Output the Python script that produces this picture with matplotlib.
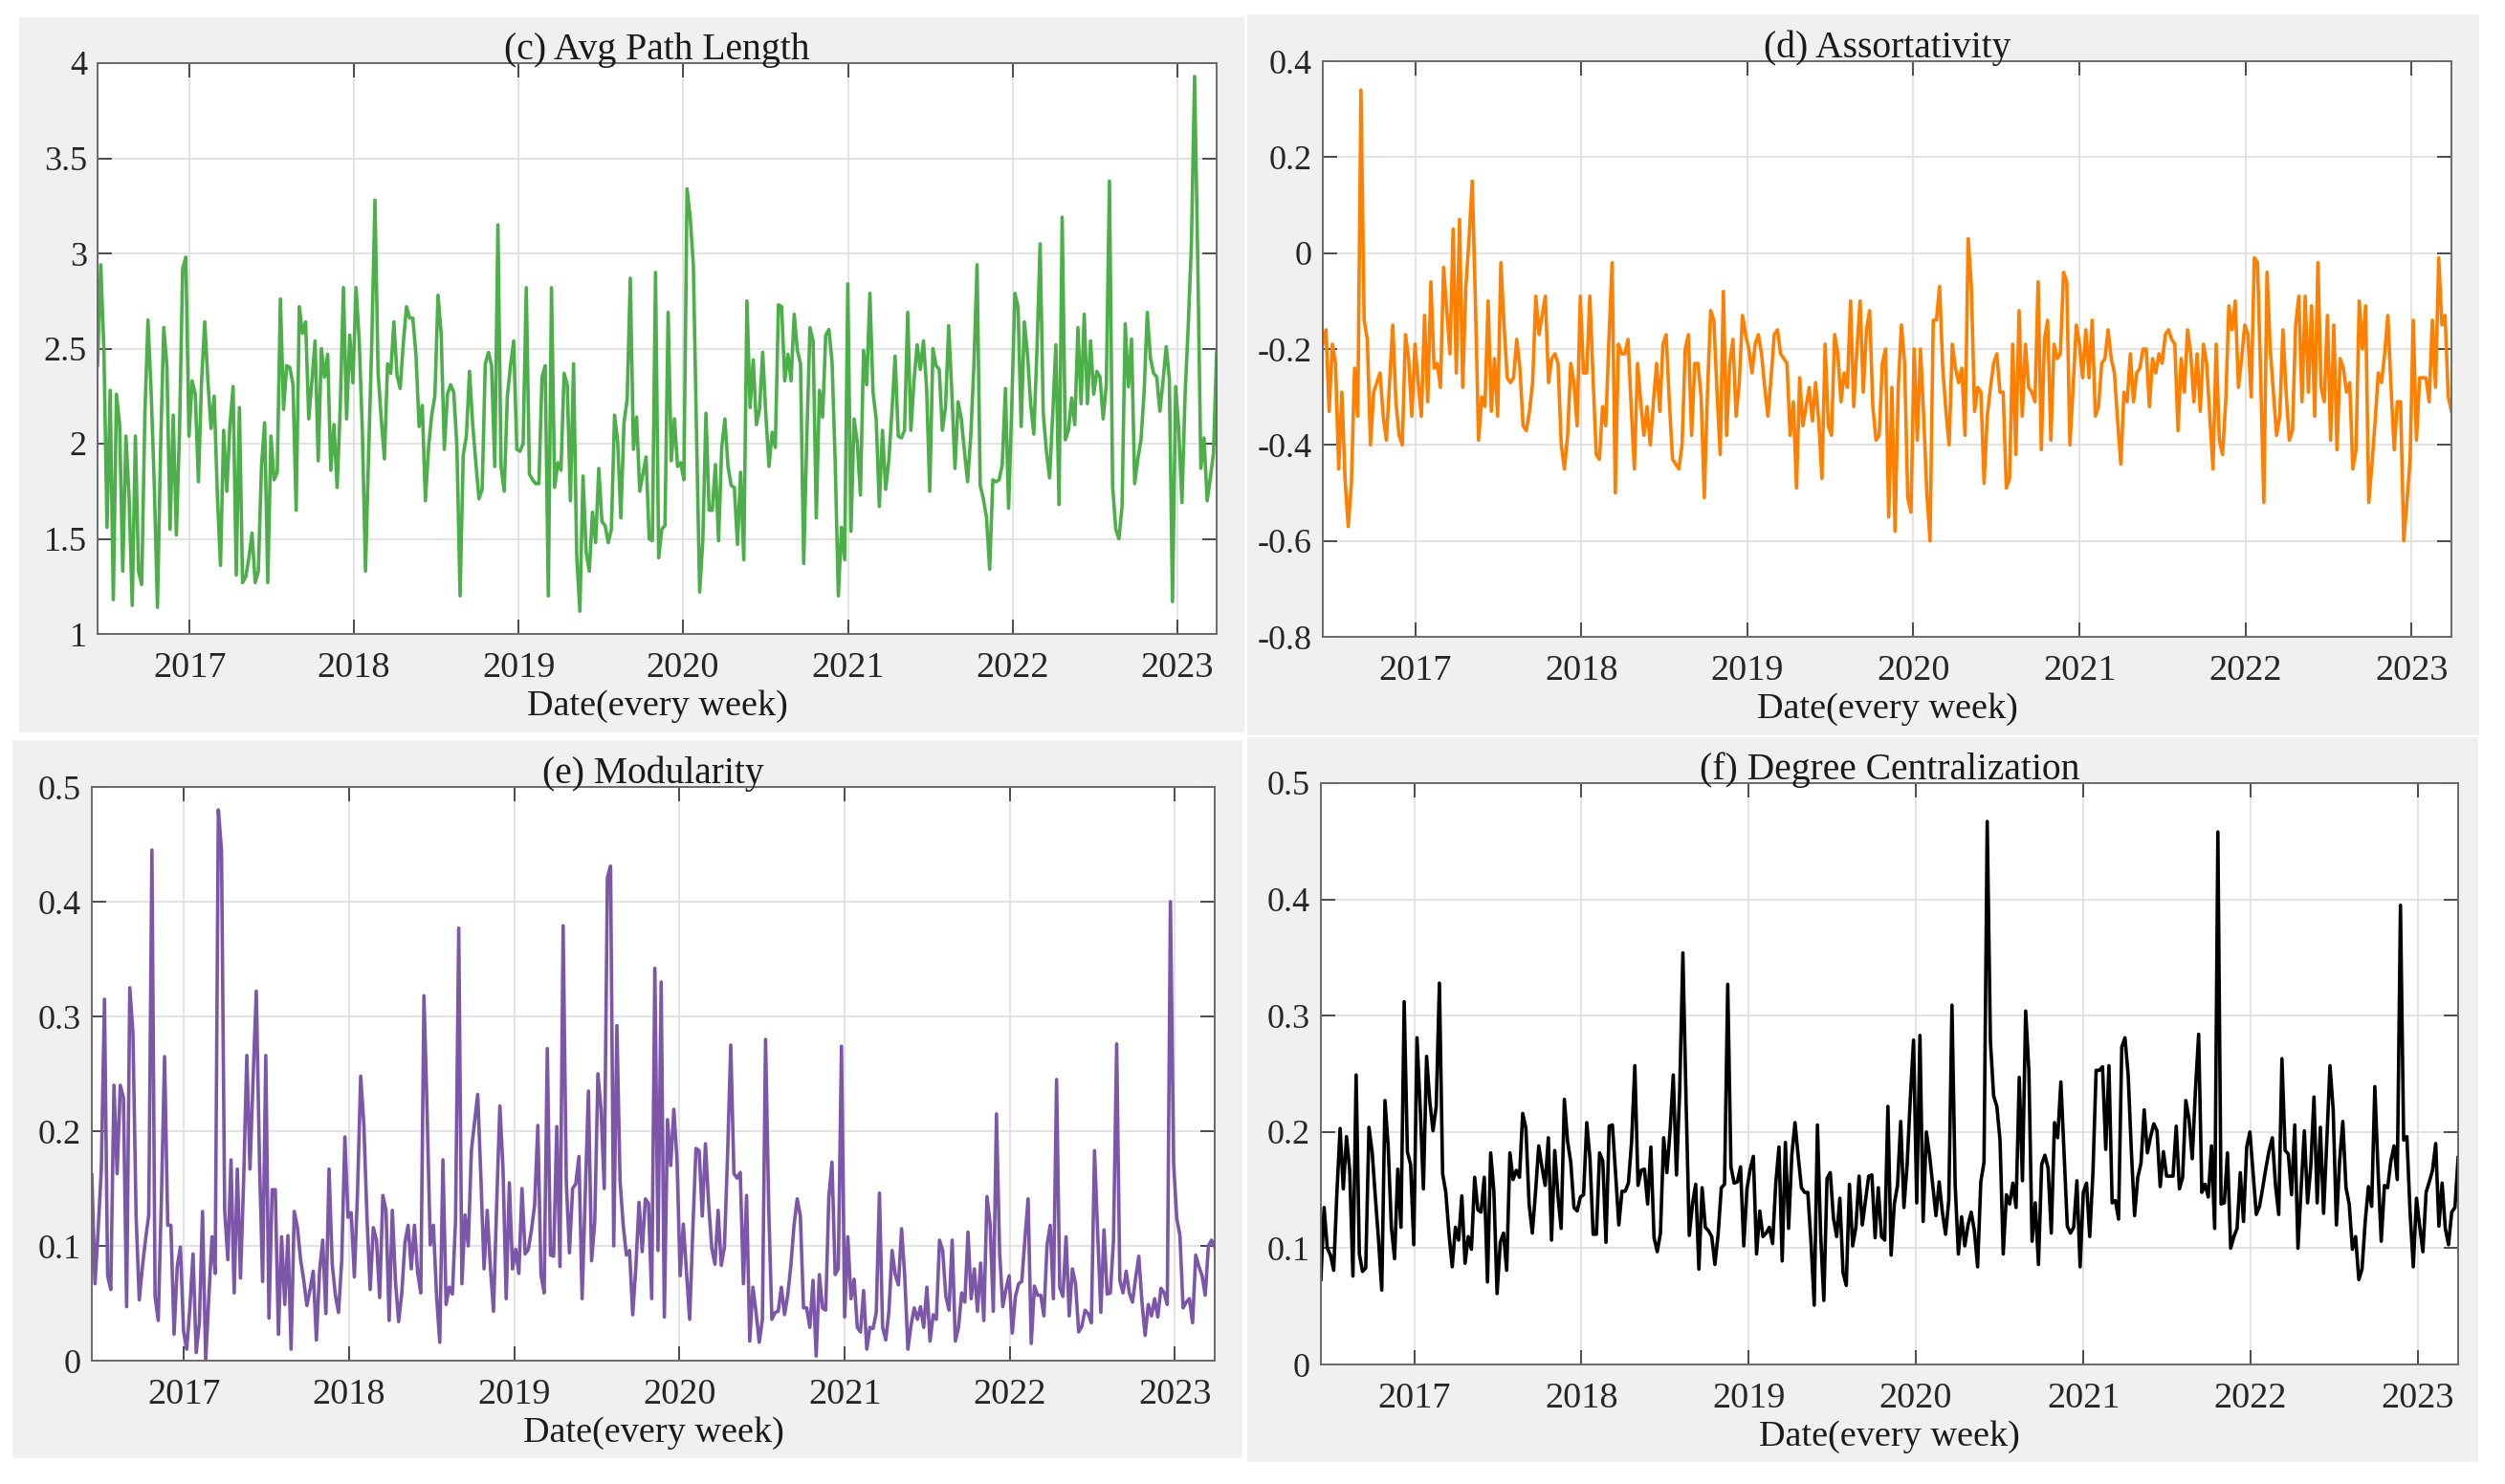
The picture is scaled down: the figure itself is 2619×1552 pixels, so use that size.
import numpy as np
import pandas as pd
import matplotlib
matplotlib.use('Agg')
import matplotlib.pyplot as plt
import matplotlib.dates as mdates
from matplotlib.patches import Rectangle

plt.rcParams['font.family'] = ['Liberation Serif', 'DejaVu Serif']

# weekly span of the series
start = pd.Timestamp('2016-06-11')
end = pd.Timestamp('2023-03-30')

# (c) average path length
path_len = [
    2.41, 2.94, 2.5, 1.56, 2.28, 1.18, 2.26, 2.1, 1.33, 2.04, 1.72, 1.15, 2.04, 1.33, 1.26, 2.15,
    2.65, 2.27, 1.78, 1.14, 1.98, 2.61, 2.41, 1.55, 2.15, 1.52, 2.07, 2.92, 2.98, 2.04, 2.33, 2.26,
    1.8, 2.33, 2.64, 2.33, 2.08, 2.25, 1.73, 1.36, 2.07, 1.75, 2.1, 2.3, 1.31, 2.19, 1.27, 1.3,
    1.4, 1.53, 1.27, 1.33, 1.88, 2.11, 1.27, 2.04, 1.81, 1.85, 2.76, 2.18, 2.41, 2.4, 2.31, 1.65,
    2.72, 2.58, 2.64, 2.13, 2.33, 2.54, 1.91, 2.5, 2.35, 2.47, 1.86, 2.1, 1.77, 2.2, 2.82, 2.13,
    2.57, 2.32, 2.82, 2.54, 2.07, 1.33, 1.96, 2.54, 3.28, 2.37, 2.13, 1.92, 2.42, 2.37, 2.64, 2.36,
    2.29, 2.53, 2.72, 2.66, 2.66, 2.47, 2.09, 2.2, 1.7, 1.98, 2.15, 2.25, 2.78, 2.58, 1.97, 2.26,
    2.31, 2.27, 1.98, 1.2, 1.94, 2.04, 2.38, 2.1, 1.9, 1.71, 1.76, 2.42, 2.48, 2.41, 1.88, 3.15,
    1.88, 1.75, 2.25, 2.41, 2.54, 1.97, 1.96, 2.0, 2.82, 1.84, 1.81, 1.79, 1.79, 2.35, 2.41, 1.2,
    2.82, 1.77, 1.9, 1.86, 2.37, 2.31, 1.7, 2.42, 1.41, 1.12, 1.83, 1.43, 1.33, 1.64, 1.48, 1.87,
    1.59, 1.57, 1.48, 1.55, 2.15, 2.01, 1.61, 2.11, 2.23, 2.87, 1.97, 2.14, 1.75, 1.84, 1.93, 1.5,
    1.49, 2.9, 1.4, 1.55,
    1.57, 2.69, 1.91, 2.13, 1.88, 1.9, 1.81, 3.34, 3.19, 2.94, 2.06, 1.22, 1.49, 2.16, 1.65, 1.65,
    1.89, 1.49, 1.98, 2.13, 1.88, 1.78, 1.77, 1.47, 1.85, 1.39, 2.75, 2.19, 2.44, 2.1, 2.18, 2.48,
    2.15, 1.88, 2.06, 1.98, 2.73, 2.72, 2.33, 2.47, 2.33, 2.68, 2.49, 2.42, 1.37, 2.04, 2.61, 2.54,
    1.61, 2.28, 2.14, 2.57, 2.6, 2.43, 1.9, 1.2, 1.56, 1.39, 2.84, 1.54, 2.13, 2.01, 1.73, 2.49,
    2.31, 2.79, 2.27, 2.13, 1.67, 2.07, 1.76, 1.91, 2.17, 2.46, 2.04, 2.03, 2.07, 2.69, 2.07, 2.33,
    2.52, 2.39, 2.54, 2.29, 1.75, 2.5, 2.41, 2.39, 2.07, 2.19, 2.62, 2.27, 1.87, 2.22, 2.13, 1.96,
    1.8, 2.04, 2.41, 2.94, 1.78, 1.71, 1.61, 1.34, 1.81, 1.8, 1.81, 1.89, 2.29, 1.66, 2.19, 2.79,
    2.72, 2.09, 2.64, 2.47, 2.21, 2.05, 2.49, 3.05, 2.16, 1.96, 1.82, 2.15, 2.52, 1.68, 3.19, 2.02,
    2.07, 2.24, 2.1, 2.61, 2.21, 2.68, 2.21, 2.54, 2.26, 2.38, 2.35, 2.13, 2.31, 3.38, 1.78, 1.55,
    1.5, 1.67, 2.63, 2.3, 2.55, 1.79, 1.92, 2.02, 2.27, 2.69, 2.45, 2.37, 2.35, 2.17, 2.33, 2.51,
    2.34, 1.17, 2.3, 2.07, 1.69, 2.26, 2.62, 3.05, 3.93, 2.97, 1.87, 2.03, 1.7, 1.82, 1.95, 2.48,
]

# (d) assortativity
assort = [
    -0.19, -0.16, -0.33, -0.19, -0.23, -0.45, -0.29, -0.47, -0.57, -0.48, -0.24, -0.34, 0.34, -0.14,
    -0.18, -0.4, -0.29, -0.27, -0.25, -0.34, -0.39, -0.27, -0.15, -0.31, -0.38, -0.4, -0.17, -0.22,
    -0.34, -0.19, -0.27, -0.34, -0.13, -0.31, -0.06, -0.24, -0.23, -0.28, -0.03, -0.12, -0.21, 0.05,
    -0.25, 0.07, -0.28, -0.07, 0.03, 0.15, -0.1, -0.39, -0.3, -0.32, -0.1, -0.33, -0.22, -0.34,
    -0.02, -0.15, -0.26, -0.27, -0.26, -0.18, -0.24, -0.36, -0.37, -0.33, -0.27, -0.09, -0.17, -0.13,
    -0.09, -0.27, -0.22, -0.21, -0.23, -0.4, -0.45, -0.38, -0.23, -0.27, -0.36, -0.09, -0.25, -0.25,
    -0.09, -0.26, -0.42, -0.43, -0.32, -0.36, -0.18, -0.02, -0.5, -0.19, -0.21, -0.21, -0.18, -0.32,
    -0.45, -0.23, -0.31, -0.38, -0.32, -0.4, -0.31, -0.23, -0.33, -0.19, -0.17, -0.31, -0.43, -0.44,
    -0.45, -0.4, -0.2, -0.17, -0.38, -0.23, -0.23, -0.3, -0.51, -0.29, -0.12, -0.14, -0.29, -0.42,
    -0.08, -0.38, -0.23, -0.18, -0.34, -0.27, -0.13, -0.17, -0.2, -0.25, -0.19, -0.17, -0.21, -0.28,
    -0.34, -0.26, -0.17, -0.16, -0.21, -0.22, -0.23, -0.38, -0.31, -0.49, -0.26, -0.36, -0.32, -0.28,
    -0.35, -0.27, -0.35, -0.47, -0.19, -0.36, -0.38, -0.17, -0.21, -0.31, -0.25, -0.28, -0.1, -0.32,
    -0.2, -0.1, -0.29, -0.16, -0.12, -0.32, -0.39, -0.38, -0.23, -0.2, -0.55,
    -0.28, -0.58, -0.28, -0.15, -0.23, -0.51, -0.54, -0.2, -0.39, -0.2, -0.34, -0.5, -0.6, -0.14,
    -0.14, -0.07, -0.24, -0.33, -0.4, -0.19, -0.24, -0.27, -0.24, -0.38, 0.03, -0.07, -0.33, -0.28,
    -0.29, -0.48, -0.34, -0.28, -0.23, -0.21, -0.29, -0.29, -0.49, -0.47, -0.19, -0.42, -0.12, -0.34,
    -0.19, -0.28, -0.29, -0.31, -0.06, -0.41, -0.18, -0.14, -0.39, -0.19, -0.22, -0.21, -0.04, -0.06,
    -0.4, -0.28, -0.15, -0.19, -0.26, -0.16, -0.26, -0.14, -0.34, -0.32, -0.23, -0.22, -0.16, -0.22,
    -0.25, -0.35, -0.44, -0.29, -0.31, -0.21, -0.31, -0.25, -0.24, -0.2, -0.2, -0.32, -0.22, -0.25,
    -0.21, -0.23, -0.17, -0.16, -0.18, -0.19, -0.37, -0.22, -0.29, -0.16, -0.21, -0.31, -0.21, -0.33,
    -0.19, -0.23, -0.34, -0.45, -0.19, -0.39, -0.42, -0.31, -0.11, -0.16, -0.1, -0.28, -0.22, -0.15,
    -0.17, -0.3, -0.01, -0.02, -0.26, -0.52, -0.04, -0.2, -0.29, -0.38, -0.34, -0.16, -0.29, -0.39,
    -0.37, -0.15, -0.09, -0.31, -0.09, -0.29, -0.11, -0.34, -0.02, -0.28, -0.31, -0.13, -0.39, -0.15,
    -0.41, -0.22, -0.24, -0.29, -0.27, -0.45, -0.41, -0.1, -0.2, -0.11, -0.52, -0.44, -0.35, -0.25,
    -0.27, -0.21, -0.13, -0.28, -0.41, -0.31, -0.31, -0.6, -0.52, -0.43, -0.14, -0.39, -0.26, -0.26,
    -0.26, -0.31, -0.14, -0.28, -0.01, -0.15, -0.13, -0.3, -0.33,
]

# (e) modularity
modularity = [
    0.162, 0.067, 0.114, 0.167, 0.315, 0.074, 0.062, 0.24, 0.163, 0.24, 0.229, 0.047, 0.325, 0.286,
    0.126, 0.053, 0.082, 0.106, 0.127, 0.445, 0.056, 0.035, 0.141, 0.265, 0.118, 0.118, 0.023, 0.082,
    0.099, 0.026, 0.01, 0.046, 0.093, 0.007, 0.033, 0.13, 0.0, 0.056, 0.108, 0.076, 0.48, 0.445,
    0.131, 0.088, 0.175, 0.059, 0.167, 0.072, 0.157, 0.266, 0.167, 0.247, 0.322, 0.175, 0.069, 0.266,
    0.037, 0.149, 0.149, 0.023, 0.108, 0.049, 0.109, 0.01, 0.13, 0.116, 0.088, 0.07, 0.048, 0.062,
    0.078, 0.018, 0.078, 0.105, 0.041, 0.167, 0.084, 0.057, 0.042, 0.087, 0.195, 0.125, 0.129, 0.073,
    0.147, 0.248, 0.206, 0.124, 0.062, 0.116, 0.105, 0.055, 0.144, 0.131, 0.035, 0.131, 0.069, 0.034,
    0.059, 0.103, 0.118, 0.08, 0.118, 0.077, 0.059, 0.318, 0.217, 0.101, 0.118, 0.056, 0.016, 0.175,
    0.049, 0.064, 0.058, 0.123, 0.377, 0.067, 0.127, 0.1, 0.183, 0.208, 0.232, 0.16, 0.08, 0.131,
    0.082, 0.043, 0.137, 0.222, 0.167, 0.054, 0.155, 0.08, 0.097, 0.076, 0.15, 0.093, 0.097, 0.114,
    0.136, 0.205, 0.075, 0.059, 0.272, 0.092, 0.091, 0.204, 0.082, 0.379, 0.157, 0.094, 0.15, 0.154,
    0.178, 0.054, 0.145, 0.235, 0.087, 0.121, 0.25, 0.219, 0.15, 0.421, 0.431, 0.1, 0.292, 0.157,
    0.118, 0.092, 0.096, 0.04, 0.082, 0.138, 0.095, 0.141, 0.137, 0.054, 0.342, 0.096, 0.33,
    0.038, 0.21, 0.17, 0.219, 0.175, 0.074, 0.119, 0.078, 0.036, 0.114, 0.185, 0.183, 0.126, 0.189,
    0.137, 0.098, 0.084, 0.131, 0.083, 0.099, 0.18, 0.275, 0.163, 0.159, 0.164, 0.067, 0.144, 0.017,
    0.064, 0.042, 0.016, 0.036, 0.28, 0.133, 0.036, 0.042, 0.043, 0.064, 0.04, 0.057, 0.083, 0.118,
    0.141, 0.126, 0.046, 0.046, 0.029, 0.07, 0.004, 0.075, 0.046, 0.044, 0.142, 0.173, 0.075, 0.08,
    0.274, 0.038, 0.108, 0.054, 0.071, 0.029, 0.025, 0.061, 0.01, 0.029, 0.028, 0.042, 0.146, 0.029,
    0.018, 0.043, 0.096, 0.075, 0.066, 0.115, 0.074, 0.01, 0.031, 0.046, 0.036, 0.047, 0.029, 0.064,
    0.017, 0.04, 0.036, 0.105, 0.096, 0.056, 0.044, 0.105, 0.017, 0.029, 0.059, 0.051, 0.112, 0.054,
    0.08, 0.043, 0.085, 0.035, 0.143, 0.119, 0.043, 0.215, 0.094, 0.047, 0.062, 0.074, 0.024, 0.056,
    0.067, 0.069, 0.106, 0.141, 0.015, 0.065, 0.057, 0.057, 0.039, 0.101, 0.118, 0.054, 0.245, 0.064,
    0.056, 0.108, 0.039, 0.08, 0.067, 0.025, 0.03, 0.044, 0.041, 0.033, 0.183, 0.111, 0.042, 0.114,
    0.058, 0.059, 0.105, 0.276, 0.07, 0.059, 0.078, 0.059, 0.051, 0.072, 0.091, 0.051, 0.022, 0.049,
    0.039, 0.054, 0.038, 0.063, 0.059, 0.049, 0.4, 0.172, 0.124, 0.109, 0.046, 0.051, 0.054, 0.033,
    0.092, 0.082, 0.074, 0.057, 0.1, 0.105, 0.099,
]

# (f) degree centralization
centralization = [
    0.073, 0.135, 0.1, 0.094, 0.081, 0.148, 0.203, 0.151, 0.196, 0.167, 0.076, 0.249, 0.095, 0.08,
    0.083, 0.204, 0.183, 0.144, 0.107, 0.064, 0.227, 0.188, 0.118, 0.091, 0.168, 0.118, 0.312, 0.183,
    0.172, 0.103, 0.281, 0.221, 0.151, 0.265, 0.226, 0.201, 0.222, 0.328, 0.164, 0.148, 0.112, 0.084,
    0.118, 0.107, 0.145, 0.087, 0.11, 0.099, 0.161, 0.133, 0.131, 0.161, 0.071, 0.182, 0.149, 0.061,
    0.105, 0.113, 0.081, 0.182, 0.159, 0.167, 0.161, 0.216, 0.203, 0.138, 0.113, 0.148, 0.188, 0.17,
    0.154, 0.195, 0.107, 0.184, 0.145, 0.117, 0.228, 0.192, 0.174, 0.135, 0.132, 0.144, 0.146, 0.208,
    0.177, 0.112, 0.112, 0.182, 0.175, 0.105, 0.205, 0.206, 0.164, 0.12, 0.149, 0.149, 0.156, 0.192,
    0.257, 0.154, 0.167, 0.168, 0.138, 0.187, 0.109, 0.097, 0.113, 0.195, 0.165, 0.201, 0.249, 0.163,
    0.235, 0.354, 0.226, 0.111, 0.138, 0.155, 0.082, 0.152, 0.118, 0.115, 0.11, 0.086, 0.112, 0.152,
    0.155, 0.327, 0.17, 0.156, 0.157, 0.17, 0.102, 0.151, 0.168, 0.179, 0.095, 0.132, 0.11, 0.113,
    0.118, 0.104, 0.156, 0.187, 0.089, 0.191, 0.117, 0.18, 0.208, 0.179, 0.152, 0.148, 0.148, 0.105,
    0.051, 0.206, 0.112, 0.055, 0.16, 0.165, 0.126, 0.11, 0.143, 0.079, 0.068, 0.155, 0.102, 0.118,
    0.162, 0.12, 0.141, 0.162, 0.163, 0.109, 0.152, 0.11, 0.107, 0.222,
    0.094, 0.138, 0.154, 0.209, 0.135, 0.172, 0.229, 0.279, 0.139, 0.283, 0.123, 0.2, 0.18, 0.154,
    0.128, 0.157, 0.131, 0.112, 0.141, 0.309, 0.154, 0.095, 0.127, 0.102, 0.12, 0.131, 0.115, 0.084,
    0.157, 0.174, 0.467, 0.278, 0.231, 0.222, 0.193, 0.095, 0.146, 0.138, 0.156, 0.135, 0.247, 0.158,
    0.304, 0.253, 0.106, 0.139, 0.086, 0.172, 0.18, 0.169, 0.113, 0.208, 0.195, 0.243, 0.18, 0.119,
    0.113, 0.118, 0.158, 0.084, 0.148, 0.156, 0.11, 0.165, 0.253, 0.253, 0.256, 0.185, 0.257, 0.139,
    0.141, 0.125, 0.273, 0.281, 0.249, 0.183, 0.128, 0.161, 0.173, 0.219, 0.182, 0.196, 0.207, 0.201,
    0.153, 0.183, 0.162, 0.162, 0.162, 0.205, 0.151, 0.161, 0.227, 0.211, 0.177, 0.236, 0.284, 0.148,
    0.155, 0.144, 0.188, 0.117, 0.458, 0.138, 0.139, 0.182, 0.1, 0.11, 0.117, 0.165, 0.123, 0.187,
    0.2, 0.164, 0.129, 0.136, 0.152, 0.169, 0.184, 0.195, 0.154, 0.129, 0.263, 0.184, 0.181, 0.146,
    0.206, 0.1, 0.152, 0.201, 0.139, 0.17, 0.23, 0.139, 0.204, 0.13, 0.192, 0.257, 0.219, 0.12,
    0.175, 0.209, 0.152, 0.138, 0.099, 0.11, 0.073, 0.082, 0.123, 0.153, 0.136, 0.239, 0.167, 0.106,
    0.154, 0.152, 0.175, 0.188, 0.159, 0.395, 0.193, 0.196, 0.131, 0.084, 0.143, 0.119, 0.097, 0.148,
    0.157, 0.167, 0.19, 0.119, 0.156, 0.117, 0.103, 0.131, 0.135, 0.178,
]

W, H = 2619, 1552
fig = plt.figure(figsize=(W / 100, H / 100), dpi=100)
fig.patch.set_facecolor('white')

# grey panel backgrounds, pixel boxes (x0, y0, x1, y1) from top-left
boxes = [(20, 18, 1301, 766), (1304, 15, 2592, 769),
         (13, 774, 1299, 1525), (1304, 771, 2591, 1529)]
for x0, y0, x1, y1 in boxes:
    fig.patches.append(Rectangle((x0 / W, 1 - y1 / H), (x1 - x0) / W, (y1 - y0) / H,
                                 transform=fig.transFigure, facecolor='#f0f0f0',
                                 edgecolor='none', zorder=-5))

# axes pixel boxes
axes_px = [(102, 66, 1272, 663), (1383, 64, 2563, 666),
           (96, 823, 1270, 1423), (1381, 819, 2570, 1427)]

panels = [
    ('(c) Avg Path Length', path_len, '#4daf4a', (1, 4), [1, 1.5, 2, 2.5, 3, 3.5, 4],
     ['1', '1.5', '2', '2.5', '3', '3.5', '4']),
    ('(d) Assortativity', assort, '#ff7f00', (-0.8, 0.4), [-0.8, -0.6, -0.4, -0.2, 0, 0.2, 0.4],
     ['-0.8', '-0.6', '-0.4', '-0.2', '0', '0.2', '0.4']),
    ('(e) Modularity', modularity, '#7c56a8', (0, 0.5), [0, 0.1, 0.2, 0.3, 0.4, 0.5],
     ['0', '0.1', '0.2', '0.3', '0.4', '0.5']),
    ('(f) Degree Centralization', centralization, 'black', (0, 0.5), [0, 0.1, 0.2, 0.3, 0.4, 0.5],
     ['0', '0.1', '0.2', '0.3', '0.4', '0.5']),
]

for (x0, y0, x1, y1), (title, vals, color, ylim, yticks, ylabels) in zip(axes_px, panels):
    ax = fig.add_axes([x0 / W, 1 - y1 / H, (x1 - x0) / W, (y1 - y0) / H])
    dates = pd.date_range(start, end, periods=len(vals))
    ax.plot(dates, vals, color=color, lw=2.6)
    ax.set_xlim(start, end)
    ax.set_ylim(*ylim)
    ax.set_yticks(yticks)
    ax.set_yticklabels(ylabels)
    ax.xaxis.set_major_locator(mdates.YearLocator())
    ax.xaxis.set_major_formatter(mdates.DateFormatter('%Y'))
    ax.grid(True, color='#dedede', lw=1.2)
    ax.set_axisbelow(True)
    ax.tick_params(direction='in', top=True, right=True, length=11, width=1.3,
                   color='#404040', labelcolor='#262626')
    ax.tick_params(axis='x', pad=13, labelsize=27.5)
    ax.tick_params(axis='y', pad=8, labelsize=26)
    for s in ax.spines.values():
        s.set_color('#6a6a6a')
        s.set_linewidth(1.4)
    ax.set_title(title, fontsize=28.5, pad=3, color='#1a1a1a')
    ax.set_xlabel('Date(every week)', fontsize=27.5, labelpad=4, color='#1a1a1a')

fig.savefig('out.png', dpi=100)
